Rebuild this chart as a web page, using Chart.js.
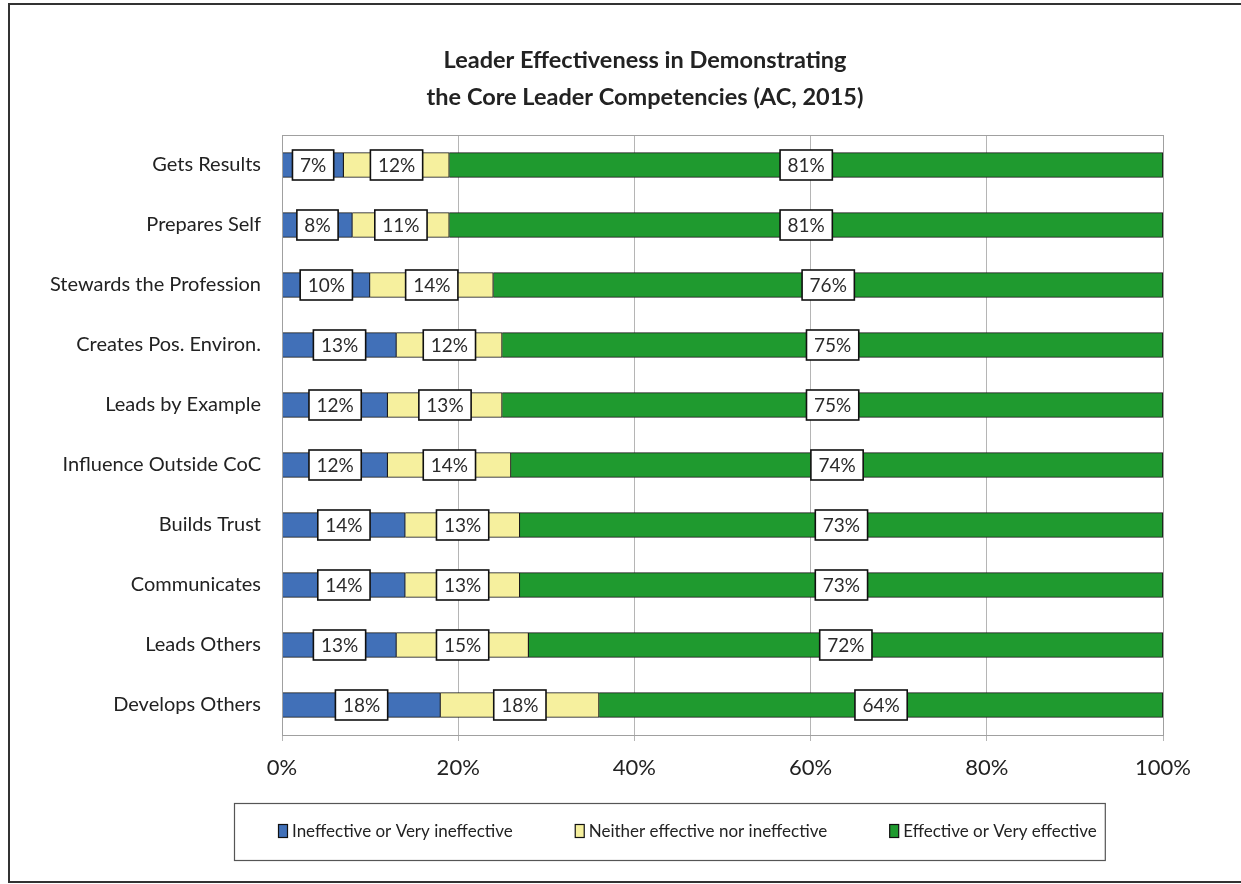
<!DOCTYPE html>
<html><head><meta charset="utf-8">
<script src="https://cdn.jsdelivr.net/npm/chart.js@4/dist/chart.umd.min.js"></script>
<style>html,body{margin:0;padding:0;background:#fff}#wrap{width:1241px;height:884px}</style>
</head><body><div id="wrap"><canvas id="c" width="1241" height="884"></canvas></div>
<script>
const categories = ["Gets Results","Prepares Self","Stewards the Profession","Creates Pos. Environ.","Leads by Example","Influence Outside CoC","Builds Trust","Communicates","Leads Others","Develops Others"];
const ineffective = [7,8,10,13,12,12,14,14,13,18];
const neither = [12,11,14,12,13,14,13,13,15,18];
const effective = [81,81,76,75,75,74,73,73,72,64];
const seriesNames = ["Ineffective or Very ineffective","Neither effective nor ineffective","Effective or Very effective"];
const titleLines = ["Leader Effectiveness in Demonstrating","the Core Leader Competencies (AC, 2015)"];
const xTicks = [0,20,40,60,80,100];

const FONT = "Lato, 'Open Sans', sans-serif";

const deco = {
  id:'deco',
  afterDatasetsDraw(chart){
    const ctx = chart.ctx;
    ctx.save();
    ctx.font = "19px " + FONT;
    ctx.textAlign='center'; ctx.textBaseline='middle';
    chart.data.datasets.forEach((ds,di)=>{
      const meta = chart.getDatasetMeta(di);
      meta.data.forEach((bar,i)=>{
        const t = ds.data[i] + '%';
        const cx = (bar.x + bar.base)/2, cy = bar.y;
        const w = ctx.measureText(t).width + 15, h = 30;
        ctx.fillStyle='#fff'; ctx.strokeStyle='#111'; ctx.lineWidth=1.6;
        ctx.fillRect(cx-w/2, cy-h/2, w, h);
        ctx.strokeRect(cx-w/2, cy-h/2, w, h);
        ctx.fillStyle='#2a2a2a';
        ctx.fillText(t, cx, cy+1);
      });
    });
    ctx.restore();
  },
  afterDraw(chart){
    const ctx = chart.ctx, a = chart.chartArea;
    ctx.save();
    // plot frame
    ctx.strokeStyle='#a0a0a0'; ctx.lineWidth=1;
    ctx.strokeRect(Math.round(a.left)+0.5, Math.round(a.top)+0.5, Math.round(a.right-a.left), Math.round(a.bottom-a.top));
    // title
    ctx.fillStyle='#222'; ctx.textAlign='center'; ctx.textBaseline='middle';
    ctx.font = "bold 23.5px " + FONT;
    titleLines.forEach((ln,i)=>ctx.fillText(ln, 645, a.top - 75 + i*37));
    // legend
    ctx.font = "17px " + FONT;
    ctx.textAlign='left';
    const y = a.bottom + 96;
    let x = a.left - 4;
    const startX = x;
    chart.data.datasets.forEach((d,i)=>{
      ctx.fillStyle = d.backgroundColor; ctx.strokeStyle='#111'; ctx.lineWidth=1.2;
      ctx.fillRect(x+0.5, y-6.5, 9, 13); ctx.strokeRect(x+0.5, y-6.5, 9, 13);
      ctx.fillStyle='#222';
      ctx.fillText(d.label, x+14, y+1);
      x += 14 + ctx.measureText(d.label).width + (i<2?62:0);
    });
    ctx.strokeStyle='#555'; ctx.lineWidth=1.2;
    ctx.strokeRect(startX-44+0.5, y-28+0.5, (x-startX)+44+8, 57);
    // outer frame
    ctx.strokeStyle='#333'; ctx.lineWidth=2;
    ctx.strokeRect(9, 4, chart.width+4, chart.height-6);
    ctx.restore();
  }
};

new Chart(document.getElementById('c'), {
  type:'bar',
  data:{
    labels: categories,
    datasets:[
      {label:seriesNames[0], data:ineffective, backgroundColor:'#4170b8', borderColor:'#1a1a1a', borderWidth:1.2, barThickness:25},
      {label:seriesNames[1], data:neither, backgroundColor:'#f6f09e', borderColor:'#1a1a1a', borderWidth:1.2, barThickness:25},
      {label:seriesNames[2], data:effective, backgroundColor:'#1f9a2f', borderColor:'#1a1a1a', borderWidth:1.2, barThickness:25}
    ]
  },
  options:{
    indexAxis:'y',
    responsive:false,
    animation:false,
    layout:{padding:{left:8, right:78, top:135, bottom:101}},
    scales:{
      x:{stacked:true, min:0, max:100,
         afterBuildTicks(s){ s.ticks = xTicks.map(v=>({value:v})); },
         ticks:{callback:v=>v+'%', font:{size:22, family:FONT}, color:'#222', padding:14},
         grid:{color:'#b5b5b5', tickLength:6, drawTicks:true},
         border:{display:false},
         afterFit(s){ s.height = 48; }
      },
      y:{stacked:true,
         ticks:{font:{size:20, family:FONT}, color:'#222', padding:13},
         grid:{display:false},
         border:{display:false},
         afterFit(s){ s.width = 274; }
      }
    },
    plugins:{
      title:{display:false},
      legend:{display:false},
      tooltip:{enabled:false}
    }
  },
  plugins:[deco]
});
</script></body></html>
